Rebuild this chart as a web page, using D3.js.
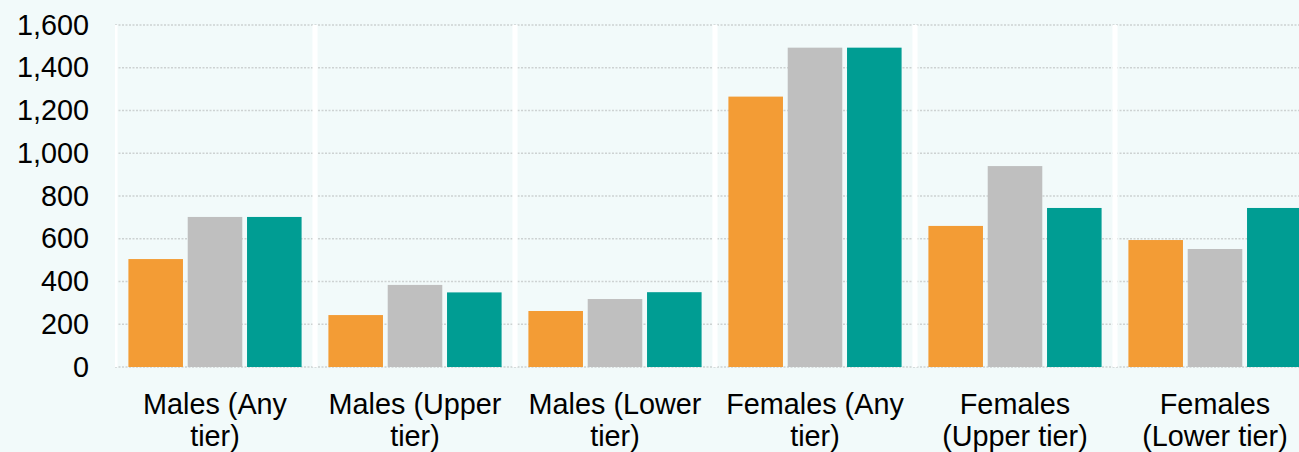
<!DOCTYPE html>
<html>
<head>
<meta charset="utf-8">
<script src="https://cdn.jsdelivr.net/npm/d3@7"></script>
<style>
  html, body { margin: 0; padding: 0; background: #f2fafa; }
  svg { display: block; font-family: "Liberation Sans", Arial, sans-serif; }
</style>
</head>
<body>
<svg id="chart" width="1299" height="452"></svg>
<script>
// categories, two lines each as in the picture
const categories = ["Males (Any tier)", "Males (Upper tier)", "Males (Lower tier)",
                    "Females (Any tier)", "Females (Upper tier)", "Females (Lower tier)"];
const categoryLines = [["Males (Any", "tier)"], ["Males (Upper", "tier)"], ["Males (Lower", "tier)"],
                       ["Females (Any", "tier)"], ["Females", "(Upper tier)"], ["Females", "(Lower tier)"]];

const seriesKeys = ["s1", "s2", "s3"];
const seriesColors = ["#f39c35", "#bfbfbf", "#009d93"];
const s1 = [505, 243, 262, 1265, 660, 594];
const s2 = [702, 384, 318, 1494, 940, 552];
const s3 = [702, 349, 350, 1494, 744, 744];
const yTicks = [0, 200, 400, 600, 800, 1000, 1200, 1400, 1600];

const svg = d3.select("#chart");
const width = 1299, height = 452;

svg.append("rect").attr("width", width).attr("height", height).attr("fill", "#f2fafa");

// plot runs past the right edge (last group is cut off)
const x0 = d3.scaleBand().domain(categories).range([115, 115 + 6 * 200]).padding(0);
const x1 = d3.scaleBand().domain(seriesKeys).range([0, x0.bandwidth()])
    .paddingInner(0.08).paddingOuter(0.226);
const y = d3.scaleLinear().domain([0, 1600]).range([367, 25]);

// grid
svg.append("g").selectAll("line")
  .data(yTicks)
  .enter().append("line")
    .attr("x1", 115).attr("x2", width)
    .attr("y1", d => y(d)).attr("y2", d => y(d))
    .attr("stroke", "#cdd2d2")
    .attr("stroke-width", 1.5)
    .attr("stroke-dasharray", "2,1.5");

// white separators between groups
svg.append("g").selectAll("rect")
  .data(categories)
  .enter().append("rect")
    .attr("x", (d, i) => i == 0 ? x0(d) : x0(d) - 2.5)
    .attr("width", (d, i) => i == 0 ? 2.5 : 5)
    .attr("y", y(1600))
    .attr("height", y(0) - y(1600))
    .attr("fill", "#ffffff");

// bars
const rows = categories.map((c, i) => ({ cat: c, vals: [s1[i], s2[i], s3[i]] }));
const grp = svg.append("g").selectAll("g")
  .data(rows)
  .enter().append("g")
    .attr("transform", d => "translate(" + x0(d.cat) + ",0)");

grp.selectAll("rect")
  .data(d => d.vals.map((v, k) => ({ key: seriesKeys[k], v: v, k: k })))
  .enter().append("rect")
    .attr("x", d => x1(d.key))
    .attr("width", x1.bandwidth())
    .attr("y", d => y(d.v))
    .attr("height", d => y(0) - y(d.v))
    .attr("fill", d => seriesColors[d.k]);

// y axis labels
const yAxis = d3.axisLeft(y).tickValues(yTicks).tickFormat(d3.format(",")).tickSize(0).tickPadding(0);
const ya = svg.append("g").attr("transform", "translate(89,0)").call(yAxis);
ya.select(".domain").remove();
ya.selectAll("text")
  .attr("font-size", "28.8px")
  .attr("font-family", "Liberation Sans, Arial, sans-serif")
  .attr("fill", "#000");

// category labels
const lab = svg.append("g").selectAll("text")
  .data(categories)
  .enter().append("text")
    .attr("x", d => x0(d) + x0.bandwidth() / 2)
    .attr("text-anchor", "middle")
    .attr("font-size", "28.8px")
    .attr("fill", "#000");
lab.each(function(d, i) {
  const t = d3.select(this);
  categoryLines[i].forEach((ln, j) => {
    t.append("tspan").attr("x", x0(d) + x0.bandwidth() / 2).attr("y", 414 + j * 32).text(ln);
  });
});
</script>
</body>
</html>
